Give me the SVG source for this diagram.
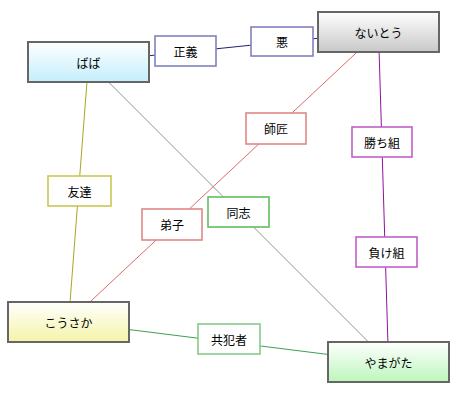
<svg xmlns="http://www.w3.org/2000/svg" width="456" height="394" viewBox="0 0 456 394">
<defs>
<linearGradient id="gCyan" x1="0" y1="0" x2="0" y2="1"><stop offset="0" stop-color="#ffffff"/><stop offset="1" stop-color="#c4eefc"/></linearGradient>
<linearGradient id="gGray" x1="0" y1="0" x2="0" y2="1"><stop offset="0" stop-color="#ffffff"/><stop offset="1" stop-color="#c8c8c8"/></linearGradient>
<linearGradient id="gYellow" x1="0" y1="0" x2="0" y2="1"><stop offset="0" stop-color="#ffffff"/><stop offset="1" stop-color="#f4f4a8"/></linearGradient>
<linearGradient id="gGreen" x1="0" y1="0" x2="0" y2="1"><stop offset="0" stop-color="#ffffff"/><stop offset="1" stop-color="#bcf6bc"/></linearGradient>
</defs>
<style>
text{font-family:"Noto Sans CJK JP","Noto Sans CJK SC",sans-serif;font-size:12px;fill:#000;text-anchor:middle;dominant-baseline:central}
.node{stroke:#666;stroke-width:2}
.lbl{fill:#fff;stroke-width:1.6}
.c{fill:none;stroke-width:1}
</style>
<rect width="456" height="394" fill="#fff"/>
<g id="connectors">
<line class="c" x1="88.5" y1="62" x2="378.5" y2="32" stroke="#202080"/>
<line class="c" x1="378.5" y1="32" x2="68.5" y2="322" stroke="#e06868"/>
<line class="c" x1="88.5" y1="62" x2="388.5" y2="362" stroke="#889888"/>
<line class="c" x1="88.5" y1="62" x2="68.5" y2="322" stroke="#a8a820"/>
<line class="c" x1="378.5" y1="32" x2="388.5" y2="362" stroke="#9010a0"/>
<line class="c" x1="68.5" y1="322" x2="388.5" y2="362" stroke="#40a050"/>
</g>
<g id="label-seigi"><rect class="lbl" x="155" y="36" width="61" height="30" stroke="#8080c0"/><text x="185.5" y="51">正義</text></g>
<g id="label-aku"><rect class="lbl" x="251" y="27" width="62" height="29" stroke="#8080c0"/><text x="282" y="41.5">悪</text></g>
<g id="label-shisho"><rect class="lbl" x="246" y="113" width="60" height="31" stroke="#e08888"/><text x="276" y="128.5">師匠</text></g>
<g id="label-deshi"><rect class="lbl" x="142" y="209" width="60" height="31" stroke="#e08888"/><text x="172" y="224.5">弟子</text></g>
<g id="label-doshi"><rect class="lbl" x="208" y="197" width="61" height="30" stroke="#60c060"/><text x="238.5" y="212">同志</text></g>
<g id="label-kachigumi"><rect class="lbl" x="352" y="127" width="60" height="30" stroke="#c060c8"/><text x="382" y="142">勝ち組</text></g>
<g id="label-makegumi"><rect class="lbl" x="356" y="237" width="61" height="30" stroke="#c060c8"/><text x="386.5" y="252">負け組</text></g>
<g id="label-tomodachi"><rect class="lbl" x="48" y="176" width="63" height="30" stroke="#c8c850"/><text x="79.5" y="191">友達</text></g>
<g id="label-kyohansha"><rect class="lbl" x="198" y="324" width="62" height="30" stroke="#88c888"/><text x="229" y="339">共犯者</text></g>
<g id="node-baba"><rect class="node" x="28" y="42" width="121" height="40" fill="url(#gCyan)"/><text x="88.5" y="62">ばば</text></g>
<g id="node-naito"><rect class="node" x="318" y="12" width="121" height="40" fill="url(#gGray)"/><text x="378.5" y="32">ないとう</text></g>
<g id="node-kosaka"><rect class="node" x="8" y="302" width="121" height="40" fill="url(#gYellow)"/><text x="68.5" y="322">こうさか</text></g>
<g id="node-yamagata"><rect class="node" x="328" y="342" width="121" height="40" fill="url(#gGreen)"/><text x="388.5" y="362">やまがた</text></g>
</svg>
